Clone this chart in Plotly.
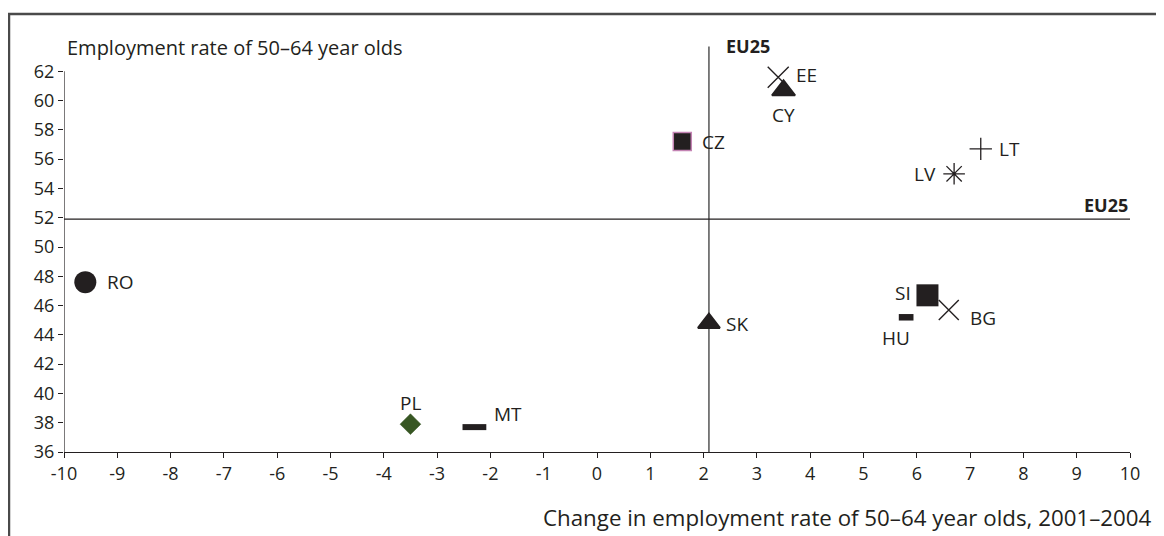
import plotly.graph_objects as go

# ---- data ----
countries = ["RO", "PL", "MT", "CZ", "EE", "CY", "LT", "LV", "SI", "BG", "HU", "SK"]
change_2001_2004 = [-9.6, -3.5, -2.3, 1.6, 3.4, 3.5, 7.2, 6.7, 6.2, 6.6, 5.8, 2.1]
employment_rate = [47.6, 37.9, 37.7, 57.2, 61.6, 60.7, 56.7, 55.0, 46.7, 45.7, 45.2, 44.8]
eu25_change = 2.1
eu25_rate = 51.9
x_ticks = list(range(-10, 11))
y_ticks = list(range(36, 63, 2))

# ---- styles (per country) ----
INK = "#231f20"
style = {
    "RO": dict(symbol="circle", size=22, color=INK, line=dict(width=0, color=INK)),
    "PL": dict(symbol="diamond", size=16, color="#375623", line=dict(width=0.5, color="#375623")),
    "MT": dict(symbol="line-ew", size=17, color=INK, line=dict(width=6, color=INK)),
    "CZ": dict(symbol="square", size=18, color=INK, line=dict(width=1.5, color="#c484b4")),
    "EE": dict(symbol="x-thin", size=21, color=INK, line=dict(width=1.4, color=INK)),
    "CY": dict(symbol="triangle-up", size=20, color=INK, line=dict(width=2, color=INK)),
    "LT": dict(symbol="cross-thin", size=16, color=INK, line=dict(width=1.3, color=INK)),
    "LV": dict(symbol="asterisk", size=18, color=INK, line=dict(width=1.3, color=INK)),
    "SI": dict(symbol="square", size=22, color=INK, line=dict(width=0, color=INK)),
    "BG": dict(symbol="x-thin", size=20, color=INK, line=dict(width=1.4, color=INK)),
    "HU": dict(symbol="line-ew", size=10.5, color=INK, line=dict(width=6.5, color=INK)),
    "SK": dict(symbol="triangle-up", size=19, color=INK, line=dict(width=2, color=INK)),
}
label_offset = {
    "RO": (20, 0, "left"), "PL": (0, 21, "center"), "MT": (18, 13, "left"),
    "CZ": (18, 0, "left"), "EE": (16, 2, "left"), "CY": (0, -25, "center"),
    "LT": (16, 0, "left"), "LV": (-16, 0, "right"), "SI": (-14, 2, "right"),
    "BG": (19, -8, "left"), "HU": (-10, -21, "center"), "SK": (15, -1, "left"),
}

FONT = "Open Sans"
fig = go.Figure()

# reference lines
fig.add_shape(type="line", x0=eu25_change, x1=eu25_change, y0=36, y1=63.7,
              xref="x", yref="y", line=dict(color="#555555", width=1.5), layer="below")
fig.add_shape(type="line", x0=-10, x1=10, y0=eu25_rate, y1=eu25_rate,
              xref="x", yref="y", line=dict(color=INK, width=1.2), layer="below")
# y axis line (36..62 only)
fig.add_shape(type="line", x0=-10, x1=-10, y0=36, y1=62,
              xref="x", yref="y", line=dict(color=INK, width=1.2))

for c, x, y in zip(countries, change_2001_2004, employment_rate):
    s = style[c]
    fig.add_trace(go.Scatter(
        x=[x], y=[y], mode="markers", showlegend=False, hoverinfo="skip",
        marker=dict(symbol=s["symbol"], size=s["size"], color=s["color"], line=s["line"]),
        cliponaxis=False,
    ))
    dx, dy, anc = label_offset[c]
    fig.add_annotation(x=x, y=y, xref="x", yref="y", text=c, showarrow=False,
                       xshift=dx, yshift=dy, xanchor=anc, yanchor="middle",
                       font=dict(family=FONT, size=19, color=INK))

# EU25 labels
fig.add_annotation(x=eu25_change, y=63.7, xref="x", yref="y", text="<b>EU25</b>",
                   showarrow=False, xanchor="left", yanchor="middle", xshift=15,
                   font=dict(family=FONT, size=18, color=INK))
fig.add_annotation(x=10, y=eu25_rate, xref="x", yref="y", text="<b>EU25</b>",
                   showarrow=False, xanchor="right", yanchor="bottom", yshift=0,
                   font=dict(family=FONT, size=18, color=INK))

# axis titles
fig.add_annotation(x=0.0, y=1.0, xref="paper", yref="paper",
                   text="Employment rate of 50–64 year olds", showarrow=False,
                   xanchor="left", yanchor="middle", xshift=1, yshift=-5,
                   font=dict(family=FONT, size=20, color=INK))
fig.add_annotation(x=1.0, y=0.0, xref="paper", yref="paper",
                   text="Change in employment rate of 50–64 year olds, 2001–2004",
                   showarrow=False, xanchor="right", yanchor="middle", xshift=24, yshift=-65,
                   font=dict(family=FONT, size=22.3, color=INK))

# frame
fig.add_shape(type="rect", xref="paper", yref="paper", x0=-0.0516, x1=1.2, y0=-0.5, y1=1.068,
              line=dict(color="#4a4a4a", width=2.5), fillcolor="rgba(0,0,0,0)")

fig.update_xaxes(range=[-10, 10], tickvals=x_ticks, ticktext=[str(v) for v in x_ticks],
                 showgrid=False, zeroline=False, showline=True, linecolor=INK, linewidth=1.2,
                 ticks="outside", ticklen=5, tickcolor=INK, tickwidth=1,
                 tickfont=dict(family=FONT, size=18, color=INK))
fig.update_yaxes(range=[36, 64], tickvals=y_ticks, ticktext=[str(v) for v in y_ticks],
                 showgrid=False, zeroline=False, showline=False,
                 ticks="outside", ticklen=5, tickcolor=INK, tickwidth=1,
                 tickfont=dict(family=FONT, size=18, color=INK))

fig.update_layout(width=1156, height=528, margin=dict(l=56, r=34, t=34, b=84),
                  plot_bgcolor="white", paper_bgcolor="white")

fig.write_html("out.html")
